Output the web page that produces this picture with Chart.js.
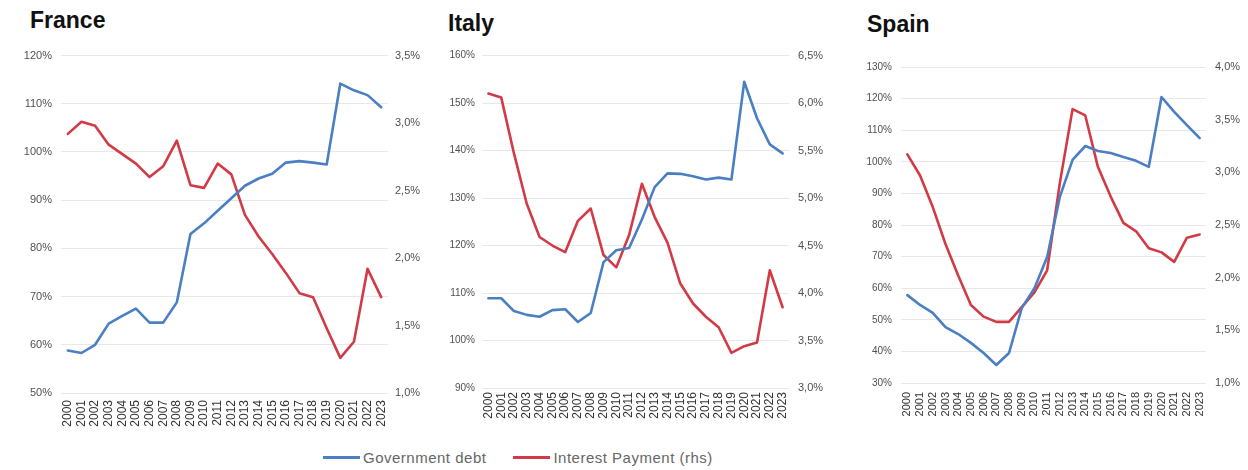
<!DOCTYPE html>
<html>
<head>
<meta charset="utf-8">
<script src="https://cdn.jsdelivr.net/npm/chart.js@4.4.1/dist/chart.umd.min.js"></script>
<style>
  body { margin: 0; background: #fff; width: 1248px; height: 470px; position: relative; overflow: hidden;
         font-family: "Liberation Sans", Arial, sans-serif; }
  .title { position: absolute; font-weight: bold; font-size: 23px; color: #111; line-height: 1; }
  .box { position: absolute; }
  #legend { position: absolute; top: 449px; left: 323px; font-size: 15px; color: #666; letter-spacing: 0.5px;
            display: flex; align-items: center; white-space: nowrap; }
  #legend .sw { display: inline-block; width: 37px; height: 3px; margin-right: 3px; }
</style>
</head>
<body>

<div class="title" style="left:30px;top:9px">France</div>
<div class="title" style="left:448px;top:12px">Italy</div>
<div class="title" style="left:867px;top:13px">Spain</div>

<div class="box" style="left:18px;top:40px"><canvas id="fr" width="404" height="400"></canvas></div>
<div class="box" style="left:440px;top:40px"><canvas id="it" width="390" height="400"></canvas></div>
<div class="box" style="left:858px;top:40px"><canvas id="es" width="388" height="400"></canvas></div>

<div id="legend">
  <span class="sw" style="background:#4a7fc3"></span><span>Government debt</span>
  <span class="sw" style="background:#d23a45;margin-left:27px"></span><span>Interest Payment (rhs)</span>
</div>

<script>
const years = ['2000','2001','2002','2003','2004','2005','2006','2007','2008','2009','2010','2011',
               '2012','2013','2014','2015','2016','2017','2018','2019','2020','2021','2022','2023'];

// government debt, % of GDP
const franceDebt = [58.8, 58.3, 60.0, 64.4, 66.0, 67.5, 64.6, 64.6, 68.8, 83.0, 85.2, 87.8,
                    90.4, 93.0, 94.5, 95.5, 97.8, 98.1, 97.8, 97.4, 114.2, 112.8, 111.8, 109.3];
const italyDebt  = [108.9, 108.9, 106.2, 105.4, 105.0, 106.4, 106.6, 103.9, 105.8, 116.5, 119.0, 119.5,
                    125.5, 132.3, 135.2, 135.1, 134.6, 133.9, 134.3, 133.9, 154.5, 146.8, 141.3, 139.4];
const spainDebt  = [57.8, 54.7, 52.2, 47.7, 45.5, 42.7, 39.5, 35.7, 39.5, 53.7, 60.0, 69.9,
                    88.9, 100.6, 105.0, 103.4, 102.8, 101.5, 100.3, 98.4, 120.5, 115.8, 111.6, 107.5];

// interest payments, % of GDP (right-hand scale)
const franceInterest = [2.92, 3.01, 2.98, 2.84, 2.77, 2.70, 2.60, 2.68, 2.87, 2.54, 2.52, 2.70,
                        2.62, 2.32, 2.16, 2.03, 1.89, 1.74, 1.71, 1.48, 1.26, 1.38, 1.92, 1.71];
const italyInterest  = [6.10, 6.06, 5.47, 4.94, 4.59, 4.50, 4.43, 4.76, 4.89, 4.40, 4.27, 4.61,
                        5.15, 4.80, 4.53, 4.10, 3.89, 3.75, 3.64, 3.37, 3.44, 3.48, 4.24, 3.85];
const spainInterest  = [3.17, 2.97, 2.67, 2.32, 2.02, 1.74, 1.63, 1.58, 1.58, 1.72, 1.86, 2.07,
                        2.90, 3.60, 3.54, 3.05, 2.77, 2.52, 2.44, 2.28, 2.24, 2.15, 2.38, 2.41];

const BLUE = '#4a7fc3';
const RED = '#d23a45';
const TICK = '#505050';

function drawPanel(id, debt, interest, left, right, box) {
  new Chart(document.getElementById(id), {
    type: 'line',
    data: {
      labels: years,
      datasets: [
        { label: 'Government debt', data: debt, yAxisID: 'y', borderColor: BLUE },
        { label: 'Interest Payment (rhs)', data: interest, yAxisID: 'y1', borderColor: RED }
      ]
    },
    options: {
      responsive: false,
      animation: false,
      events: [],
      layout: { padding: { top: box.top, left: 0, right: 0, bottom: 0 } },
      elements: {
        line: { borderWidth: 2.6, tension: 0, borderJoinStyle: 'round', borderCapStyle: 'round', fill: false },
        point: { radius: 0 }
      },
      plugins: { legend: { display: false }, tooltip: { enabled: false } },
      scales: {
        x: {
          offset: true,
          grid: { display: false, drawTicks: false },
          border: { display: false },
          ticks: { autoSkip: false, minRotation: 90, maxRotation: 90, padding: box.xPad,
                   color: '#333', font: { family: 'Liberation Sans', size: box.xFont } },
          afterFit: s => { s.height = box.bottom; }
        },
        y: {
          position: 'left',
          min: left.min, max: left.max,
          grid: { color: '#e8e8e8', lineWidth: 1, drawTicks: false },
          border: { display: false },
          ticks: { stepSize: left.step, padding: box.lPad, color: TICK,
                   font: { family: 'Liberation Sans', size: box.lFont },
                   callback: v => v + '%' },
          afterFit: s => { s.width = box.left; }
        },
        y1: {
          position: 'right',
          min: right.min, max: right.max,
          grid: { display: false, drawTicks: false },
          border: { display: false },
          ticks: { stepSize: right.step, padding: box.rPad, color: TICK,
                   font: { family: 'Liberation Sans', size: 11 },
                   callback: v => v.toFixed(1).replace('.', ',') + '%' },
          afterFit: s => { s.width = box.right; }
        }
      }
    }
  });
}

drawPanel('fr', franceDebt, franceInterest,
  { min: 50, max: 120, step: 10 }, { min: 1.0, max: 3.5, step: 0.5 },
  { top: 13, left: 43, right: 34, bottom: 47, lPad: 9, rPad: 7, xPad: 7, xFont: 12, lFont: 11 });

drawPanel('it', italyDebt, italyInterest,
  { min: 90, max: 160, step: 10 }, { min: 3.0, max: 6.5, step: 0.5 },
  { top: 15, left: 42, right: 41, bottom: 52, lPad: 7, rPad: 9, xPad: 4, xFont: 12, lFont: 10 });

drawPanel('es', spainDebt, spainInterest,
  { min: 30, max: 130, step: 10 }, { min: 1.0, max: 4.0, step: 0.5 },
  { top: 27, left: 43, right: 40, bottom: 57, lPad: 9, rPad: 9, xPad: 9, xFont: 11, lFont: 10 });
</script>
</body>
</html>
